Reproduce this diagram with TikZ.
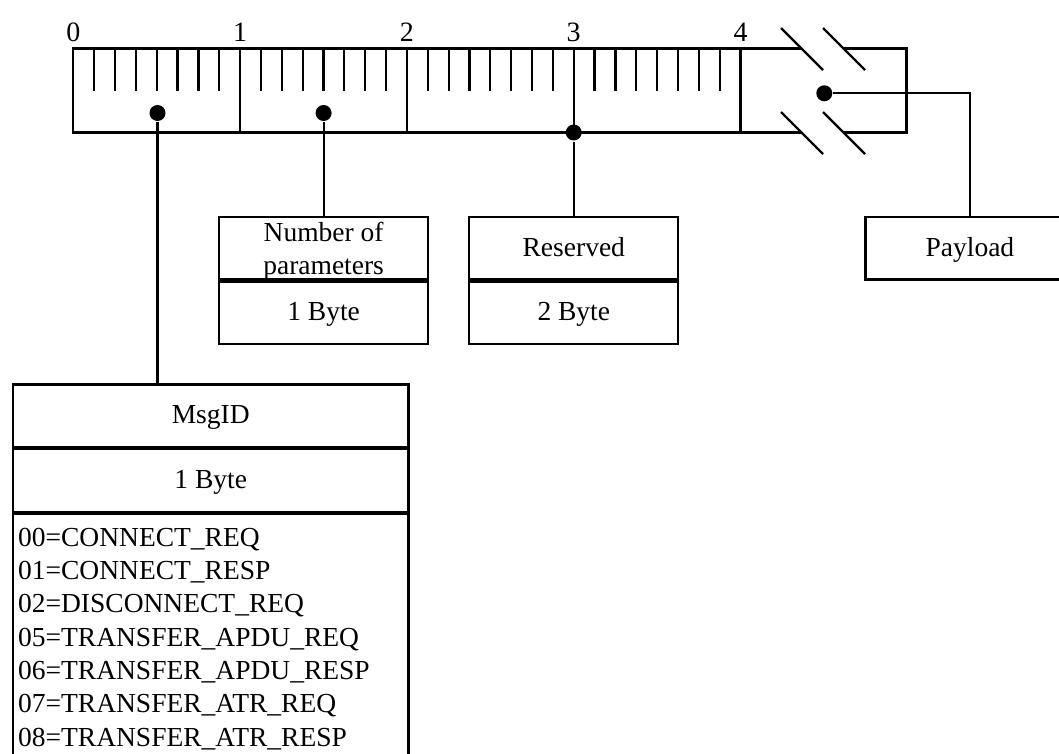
\documentclass[tikz,border=0pt]{standalone}
\usepackage{fontspec}
\setmainfont{Liberation Serif}
\begin{document}
\begin{tikzpicture}[x=1pt, y=-1pt, line width=2.2pt,
  txt/.style={font=\fontsize{27.5}{33.3}\selectfont},
  cell/.style={draw, txt, inner sep=0pt, minimum width=209pt,
    text height=39.2pt, text depth=23.45pt},
  dot/.style={circle, fill, inner sep=0pt, minimum size=16pt},
  lbl/.style={font=\fontsize{28}{33}\selectfont, anchor=base, inner sep=0pt}
]
\useasboundingbox (0,0) rectangle (1059,754);
\clip (0,0) rectangle (1059,754);

% byte scale: numbers, boundaries and ticks
\foreach \i/\x in {0/73.3, 1/240.1, 2/406.9, 3/573.7, 4/740.5} {
  \node[lbl] (num\i) at (\x,41.5) {\i};
}
\foreach \x in {240.1, 406.9, 573.7, 740.5} {
  \draw (\x,48.5) -- (\x,132.5);
}
\foreach \x in {73.3, 240.1, 406.9, 573.7} {
  \foreach \k in {1,...,7} {
    \draw (\x+\k*20.85,48.5) -- (\x+\k*20.85,90.7);
  }
}
% frame of the field, open where the break marks cut it
\draw (801.5,48.5) -- (73.3,48.5) -- (73.3,132.5) -- (801.5,132.5);
\draw (843.5,48.5) -- (906.5,48.5) -- (906.5,132.5) -- (843.5,132.5);
% break marks
\draw (781,28) -- (823,70);
\draw (823,28) -- (865,70);
\draw (781,112) -- (823,154);
\draw (823,112) -- (865,154);

% field pick-off points
\node[dot] (d0) at (157.5,113) {};
\node[dot] (d1) at (323.6,113) {};
\node[dot] (d3) at (573.7,132.5) {};
\node[dot] (d4) at (824.3,93.3) {};

% field descriptions
\node[cell, anchor=north, text height=24.3pt, text depth=38.35pt] (np) at (323.6,215.7)
  {\begin{tabular}[t]{@{}c@{}}Number of\\parameters\end{tabular}};
\node[cell, anchor=north] (npb) at (np.south) {1 Byte};

\node[cell, anchor=north] (rs) at (573.8,215.7) {Reserved};
\node[cell, anchor=north] (rsb) at (rs.south) {2 Byte};

\node[cell, anchor=north west] (pl) at (864.3,215.7) {Payload};

\node[cell, anchor=north west, minimum width=395.3pt] (msg) at (12,383.3) {MsgID};
\node[cell, anchor=north, minimum width=395.3pt] (msgb) at (msg.south) {1 Byte};
\node[draw, txt, anchor=north west, inner ysep=0pt, inner xsep=5pt,
  text height=32.2pt, text depth=260pt] (msglist) at (msgb.south west)
  {\makebox[385.3pt][l]{\begin{tabular}[t]{@{}l@{}}
    00=CONNECT\_REQ\\
    01=CONNECT\_RESP\\
    02=DISCONNECT\_REQ\\
    05=TRANSFER\_APDU\_REQ\\
    06=TRANSFER\_APDU\_RESP\\
    07=TRANSFER\_ATR\_REQ\\
    08=TRANSFER\_ATR\_RESP
  \end{tabular}}};

% connectors
\draw (d0) -- (d0 |- msg.north);
\draw (d1) -- (d1 |- np.north);
\draw (d3) -- (d3 |- rs.north);
\draw (d4) -- (pl.north |- d4) -- (pl.north);
\end{tikzpicture}
\end{document}
